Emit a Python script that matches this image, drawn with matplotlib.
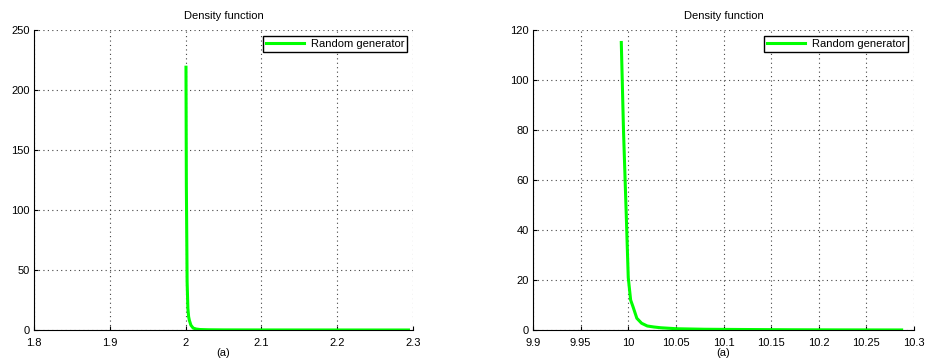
import matplotlib
matplotlib.use('Agg')
import matplotlib.pyplot as plt

plt.rcParams['font.family'] = ['Liberation Sans', 'DejaVu Sans']
plt.rcParams['font.size'] = 8

# left panel: density near 2
x_left = [2.0005, 2.001, 2.002, 2.003, 2.004, 2.005, 2.007, 2.010, 2.014, 2.019, 2.03, 2.05, 2.10, 2.15, 2.20, 2.25, 2.294]
y_left = [219, 120, 40, 18, 11, 8, 4, 1.6, 0.8, 0.4, 0.2, 0.1, 0.05, 0.03, 0.02, 0.01, 0.01]

# right panel: density near 10
x_right = [9.9927, 9.995, 9.998, 10.000, 10.0025, 10.005, 10.009, 10.014, 10.020, 10.027, 10.034, 10.051, 10.08, 10.12, 10.17, 10.22, 10.287]
y_right = [115, 80, 45, 21, 12, 9.3, 4.7, 2.7, 1.6, 1.2, 0.9, 0.5, 0.3, 0.2, 0.1, 0.05, 0.02]

panels = [
    (x_left, y_left, (1.8, 2.3), [1.8, 1.9, 2, 2.1, 2.2, 2.3], ['1.8', '1.9', '2', '2.1', '2.2', '2.3'],
     (0, 250), [0, 50, 100, 150, 200, 250], [34, 413]),
    (x_right, y_right, (9.9, 10.3), [9.9, 9.95, 10, 10.05, 10.1, 10.15, 10.2, 10.25, 10.3],
     ['9.9', '9.95', '10', '10.05', '10.1', '10.15', '10.2', '10.25', '10.3'],
     (0, 120), [0, 20, 40, 60, 80, 100, 120], [533, 914]),
]

W, H = 926, 361
fig = plt.figure(figsize=(W / 100, H / 100), dpi=100)

for xs, ys, xlim, xt, xtl, ylim, yt, (px0, px1) in panels:
    ax = fig.add_axes([px0 / W, (H - 330) / H, (px1 - px0) / W, 300 / H])
    ax.plot(xs, ys, color='#00ff00', linewidth=2.2, label='Random generator')
    ax.set_xlim(*xlim)
    ax.set_ylim(*ylim)
    ax.set_xticks(xt)
    ax.set_xticklabels(xtl)
    ax.set_yticks(yt)
    ax.grid(True, linestyle=(0, (1, 3)), color='#444444', linewidth=0.8)
    ax.tick_params(direction='in', length=3, labelsize=8)
    ax.tick_params(axis='x', pad=5.5)
    ax.tick_params(axis='y', pad=3)
    for s in ['top', 'right']:
        ax.spines[s].set_visible(False)
    ax.set_title('Density function', fontsize=8, pad=8)
    ax.set_xlabel('(a)', fontsize=8, labelpad=0)
    leg = ax.legend(loc='upper right', fancybox=False, framealpha=1, edgecolor='black',
                    handlelength=3.4, borderpad=0.3, borderaxespad=0.5, handletextpad=0.6,
                    fontsize=8)
    leg.get_frame().set_linewidth(1.0)

fig.savefig('out.png', dpi=100)
